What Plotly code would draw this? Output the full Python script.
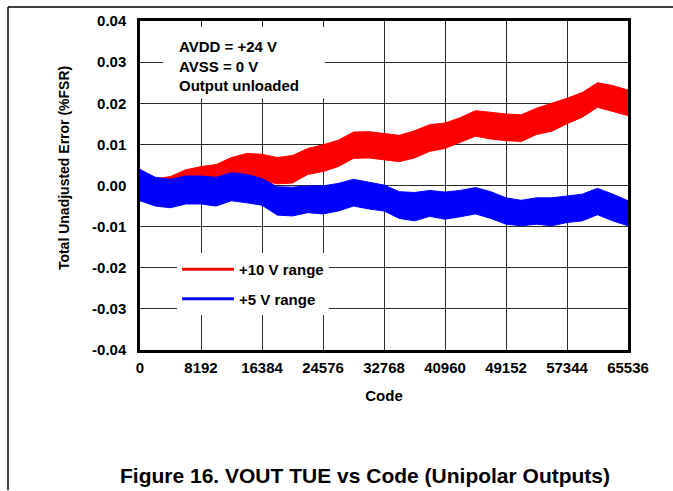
import plotly.graph_objects as go

# ---- data (band envelopes of each noisy trace) ----
codes = [0, 2048, 4096, 6144, 8192, 10240, 12288, 14336, 16384, 18432, 20480,
         22528, 24576, 26624, 28672, 30720, 32768, 34816, 36864, 38912, 40960,
         43008, 45056, 47104, 49152, 51200, 53248, 55296, 57344, 59392, 61440,
         63488, 65536]

red_top = [0.0010, 0.0016, 0.0022, 0.0038, 0.0046, 0.0051, 0.0068, 0.0078, 0.0076,
           0.0068, 0.0073, 0.0090, 0.0099, 0.0110, 0.0130, 0.0131, 0.0127, 0.0122,
           0.0133, 0.0148, 0.0152, 0.0165, 0.0182, 0.0178, 0.0174, 0.0172, 0.0188,
           0.0200, 0.0212, 0.0226, 0.0250, 0.0243, 0.0232]
red_bot = [-0.0038, -0.0020, -0.0010, 0.0000, 0.0005, 0.0010, 0.0015, 0.0020, 0.0012,
           0.0004, 0.0006, 0.0027, 0.0034, 0.0046, 0.0066, 0.0067, 0.0063, 0.0058,
           0.0067, 0.0083, 0.0090, 0.0105, 0.0120, 0.0113, 0.0109, 0.0107, 0.0124,
           0.0132, 0.0150, 0.0166, 0.0190, 0.0180, 0.0170]

blue_top = [0.0039, 0.0020, 0.0015, 0.0023, 0.0023, 0.0020, 0.0031, 0.0027, 0.0017,
            -0.0003, -0.0004, -0.0001, -0.0001, 0.0005, 0.0015, 0.0008, 0.0001, -0.0015,
            -0.0017, -0.0012, -0.0016, -0.0012, -0.0005, -0.0015, -0.0030, -0.0036,
            -0.0030, -0.0030, -0.0025, -0.0021, -0.0007, -0.0021, -0.0037]
blue_bot = [-0.0037, -0.0050, -0.0054, -0.0045, -0.0045, -0.0050, -0.0037, -0.0042,
            -0.0048, -0.0072, -0.0074, -0.0066, -0.0069, -0.0062, -0.0050, -0.0057,
            -0.0062, -0.0080, -0.0086, -0.0075, -0.0082, -0.0076, -0.0069, -0.0080,
            -0.0094, -0.0098, -0.0094, -0.0098, -0.0090, -0.0086, -0.0071, -0.0086,
            -0.0098]

x_tick_vals = [0, 8192, 16384, 24576, 32768, 40960, 49152, 57344, 65536]
x_tick_text = ["0", "8192", "16384", "24576", "32768", "40960", "49152", "57344", "65536"]
y_tick_vals = [-0.04, -0.03, -0.02, -0.01, 0.0, 0.01, 0.02, 0.03, 0.04]
y_tick_text = ["-0.04", "-0.03", "-0.02", "-0.01", "0.00", "0.01", "0.02", "0.03", "0.04"]

series_names = ["+10 V range", "+5 V range"]
series_colors = ["#FF0000", "#0000FF"]

FONT = "Liberation Sans, Arial, Helvetica, sans-serif"

fig = go.Figure()

bands = [(red_top, red_bot), (blue_top, blue_bot)]
for (top, bot), name, col in zip(bands, series_names, series_colors):
    fig.add_trace(go.Scatter(
        x=codes + codes[::-1], y=top + bot[::-1],
        mode="lines", fill="toself", fillcolor=col,
        line=dict(color=col, width=1),
        name=name, showlegend=False, hoverinfo="skip"))

# legend entries (line samples)
for i, (name, col) in enumerate(zip(series_names, series_colors)):
    fig.add_trace(go.Scatter(
        x=[None], y=[None], mode="lines", name=name,
        line=dict(color=col, width=3), legendgroup=f"g{i}"))

fig.update_layout(
    width=673, height=491,
    margin=dict(l=140, r=45, t=19, b=141),
    paper_bgcolor="white", plot_bgcolor="white",
    font=dict(family=FONT, size=15, color="black", weight="bold"),
    showlegend=True,
    legend=dict(x=(177 - 140) / 488, y=0.295, xanchor="left", yanchor="top",
                bgcolor="white", borderwidth=0, itemwidth=52,
                tracegroupgap=7,
                font=dict(family=FONT, size=15, color="black", weight="bold")),
)

fig.update_xaxes(
    range=[0, 65536], tickvals=x_tick_vals, ticktext=x_tick_text,
    showgrid=True, gridcolor="#2a2a2a", gridwidth=1.2,
    showline=True, linecolor="black", linewidth=2.5, mirror=True,
    ticks="", zeroline=False, ticklabelstandoff=2,
    tickfont=dict(family=FONT, size=15, color="black", weight="bold"),
    title=dict(text="Code", standoff=16,
               font=dict(family=FONT, size=15, color="black", weight="bold")))

fig.update_yaxes(
    range=[-0.04, 0.04], tickvals=y_tick_vals, ticktext=y_tick_text,
    showgrid=True, gridcolor="#2a2a2a", gridwidth=1.2,
    showline=True, linecolor="black", linewidth=2.5, mirror=True,
    ticks="", zeroline=False, ticklabelstandoff=8,
    tickfont=dict(family=FONT, size=15, color="black", weight="bold"))

# y-axis title (placed as in the reference, slightly above the plot centre)
fig.add_annotation(xref="paper", yref="paper",
                   x=(64 - 140) / 488, y=(350 - 167) / 331,
                   xanchor="center", yanchor="middle", showarrow=False,
                   textangle=-90, text="Total Unadjusted Error (%FSR)",
                   font=dict(family=FONT, size=14, color="black", weight="bold"))

# white box behind the conditions text
fig.add_shape(type="rect", xref="paper", yref="paper",
              x0=(163 - 140) / 488, x1=(325 - 140) / 488,
              y0=(350 - 97) / 331, y1=(350 - 25) / 331,
              fillcolor="white", line=dict(width=0), layer="above")
fig.add_annotation(xref="paper", yref="paper",
                   x=(177 - 140) / 488, y=(350 - 34) / 331,
                   xanchor="left", yanchor="top", align="left", showarrow=False,
                   text="AVDD = +24 V<br>AVSS = 0 V<br>Output unloaded",
                   font=dict(family=FONT, size=15, color="black", weight="bold"))

# caption
fig.add_annotation(xref="paper", yref="paper",
                   x=(365 - 140) / 488, y=(350 - 476) / 331,
                   xanchor="center", yanchor="middle", showarrow=False,
                   text="Figure 16. VOUT TUE vs Code (Unipolar Outputs)",
                   font=dict(family=FONT, size=21, color="black", weight="bold"))

# page frame lines
fig.add_shape(type="line", xref="paper", yref="paper",
              x0=(8 - 140) / 488, x1=(673 - 140) / 488,
              y0=(350 - 5) / 331, y1=(350 - 5) / 331,
              line=dict(color="black", width=1.5))
fig.add_shape(type="line", xref="paper", yref="paper",
              x0=(8 - 140) / 488, x1=(8 - 140) / 488,
              y0=(350 - 5) / 331, y1=(350 - 491) / 331,
              line=dict(color="black", width=1.5))

fig.write_html("out.html", config={"displayModeBar": False},
               post_script="document.body.style.margin='0';")
